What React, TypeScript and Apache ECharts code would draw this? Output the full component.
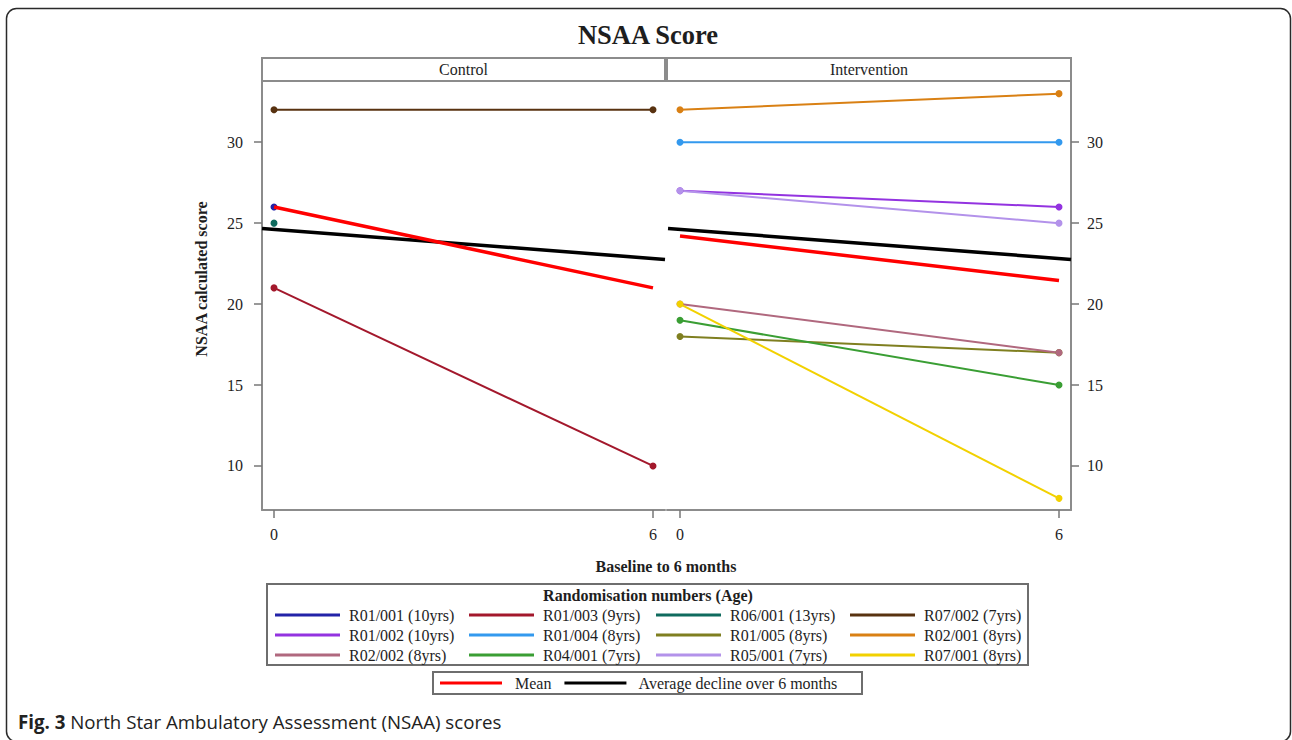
import React, { useEffect, useRef } from 'react';
import * as echarts from 'echarts';

// ---- data ----
const months = [0, 6];
const xTicks = [0, 6];
const yTicks = [10, 15, 20, 25, 30];
const panels = ['Control', 'Intervention'];

// Control group (baseline, 6 months)
const r01_001 = [26, null];
const r01_003 = [21, 10];
const r06_001 = [25, null];
const r07_002 = [32, 32];
const controlMean = [26, 21];

// Intervention group (baseline, 6 months)
const r01_002 = [27, 26];
const r01_004 = [30, 30];
const r01_005 = [18, 17];
const r02_001 = [32, 33];
const r02_002 = [20, 17];
const r04_001 = [19, 15];
const r05_001 = [27, 25];
const r07_001 = [20, 8];
const interventionMean = [24.2, 21.45];

// Average decline line, read at the panel edges
const declineX = [-0.19, 6.19];
const declineY = [24.67, 22.76];

const names = [
  'R01/001 (10yrs)', 'R01/003 (9yrs)', 'R06/001 (13yrs)', 'R07/002 (7yrs)',
  'R01/002 (10yrs)', 'R01/004 (8yrs)', 'R01/005 (8yrs)', 'R02/001 (8yrs)',
  'R02/002 (8yrs)', 'R04/001 (7yrs)', 'R05/001 (7yrs)', 'R07/001 (8yrs)',
];
const values = [
  r01_001, r01_003, r06_001, r07_002,
  r01_002, r01_004, r01_005, r02_001,
  r02_002, r04_001, r05_001, r07_001,
];
const panelOf = [0, 0, 0, 0, 1, 1, 1, 1, 1, 1, 1, 1];
const colors = [
  '#2323a8', '#a3182c', '#0f6b5e', '#583210',
  '#9333e0', '#3399ee', '#7f7f20', '#d98014',
  '#b0687e', '#3a9e34', '#b392ea', '#f2d100',
];

const SERIF = 'Liberation Serif';
const AXIS_GRAY = '#8c8c8c';
const TEXT = '#1e1e1e';

export default function App() {
  const ref = useRef<HTMLDivElement>(null);

  useEffect(() => {
    if (!ref.current) return;
    const chart = echarts.init(ref.current, undefined, { renderer: 'svg' });

    const grids = [
      { left: 262, top: 81, width: 403, height: 429 },
      { left: 667, top: 81, width: 404, height: 429 },
    ];
    const xMins = [-0.19, -0.206];

    const xAxis = grids.map((_, i) => ({
      gridIndex: i,
      type: 'value',
      min: xMins[i],
      max: 6.19,
      axisLine: { show: true, onZero: false, lineStyle: { color: AXIS_GRAY, width: 2 } },
      axisTick: { show: true, length: 8, customValues: xTicks, lineStyle: { color: '#777', width: 1.5 } },
      axisLabel: { customValues: xTicks, margin: 16, fontFamily: SERIF, fontSize: 16, color: TEXT },
      splitLine: { show: false },
    }));

    const yAxis = grids.map((_, i) => ({
      gridIndex: i,
      type: 'value',
      min: 7.28,
      max: 33.78,
      position: i === 0 ? 'left' : 'right',
      axisLine: { show: true, onZero: false, lineStyle: { color: AXIS_GRAY, width: 2 } },
      axisTick: { show: true, length: 8, customValues: yTicks, lineStyle: { color: '#777', width: 1.5 } },
      axisLabel: { customValues: yTicks, margin: i === 0 ? 19 : 16, fontFamily: SERIF, fontSize: 16, color: TEXT },
      splitLine: { show: false },
    }));

    const series: any[] = [];
    names.forEach((n, k) => {
      series.push({
        type: 'line',
        name: n,
        xAxisIndex: panelOf[k],
        yAxisIndex: panelOf[k],
        data: months.map((m, i) => [m, values[k][i]]).filter((d) => d[1] != null),
        symbol: 'circle',
        symbolSize: 7,
        color: colors[k],
        lineStyle: { color: colors[k], width: 2 },
        itemStyle: { color: colors[k] },
        z: 2,
      });
    });
    [controlMean, interventionMean].forEach((mv, p) => {
      series.push({
        type: 'line',
        name: 'Mean',
        xAxisIndex: p,
        yAxisIndex: p,
        data: months.map((m, i) => [m, mv[i]]),
        symbol: 'none',
        color: '#ff0000',
        lineStyle: { color: '#ff0000', width: 3.5 },
        z: 4,
      });
      series.push({
        type: 'line',
        name: 'Average decline over 6 months',
        xAxisIndex: p,
        yAxisIndex: p,
        data: declineX.map((x, i) => [x, declineY[i]]),
        symbol: 'none',
        color: '#000000',
        lineStyle: { color: '#000000', width: 3.5 },
        z: 3,
      });
    });

    const colLefts = [275, 469, 656, 850];
    const legendText = {
      fontFamily: SERIF,
      fontSize: 16,
      color: TEXT,
      lineHeight: 20,
    };
    const legends: any[] = colLefts.map((l, c) => ({
      orient: 'vertical',
      left: l,
      top: 605,
      padding: 0,
      itemWidth: 65,
      itemHeight: 3,
      itemGap: 0,
      icon: 'rect',
      selectedMode: false,
      data: [names[c], names[c + 4], names[c + 8]],
      formatter: (name: string) => ' ' + name,
      textStyle: legendText,
    }));
    legends.push({
      orient: 'horizontal',
      left: 440,
      top: 673,
      padding: 0,
      itemWidth: 62,
      itemHeight: 3,
      itemGap: 13,
      icon: 'rect',
      selectedMode: false,
      data: ['Mean', 'Average decline over 6 months'],
      formatter: (name: string) => '  ' + name,
      textStyle: legendText,
    });

    const graphic: any[] = [
      {
        type: 'rect',
        shape: { x: 6.5, y: 8.5, width: 1284, height: 733, r: 10 },
        style: { fill: 'none', stroke: '#2a2a2a', lineWidth: 1.5 },
        silent: true,
      },
      {
        type: 'text',
        x: 648,
        y: 35,
        style: {
          text: 'NSAA Score',
          font: `bold 26.5px ${SERIF}`,
          fill: TEXT,
          textAlign: 'center',
          textVerticalAlign: 'middle',
        },
      },
      {
        type: 'text',
        x: 666,
        y: 566,
        style: {
          text: 'Baseline to 6 months',
          font: `bold 16px ${SERIF}`,
          fill: TEXT,
          textAlign: 'center',
          textVerticalAlign: 'middle',
        },
      },
      {
        type: 'text',
        x: 201,
        y: 279,
        rotation: Math.PI / 2,
        style: {
          text: 'NSAA calculated score',
          font: `bold 16px ${SERIF}`,
          fill: TEXT,
          textAlign: 'center',
          textVerticalAlign: 'middle',
        },
      },
      {
        type: 'rect',
        shape: { x: 267, y: 584, width: 761, height: 81 },
        style: { fill: 'none', stroke: '#6e6e6e', lineWidth: 2 },
        silent: true,
      },
      {
        type: 'text',
        x: 648,
        y: 595,
        style: {
          text: 'Randomisation numbers (Age)',
          font: `bold 16px ${SERIF}`,
          fill: TEXT,
          textAlign: 'center',
          textVerticalAlign: 'middle',
        },
      },
      {
        type: 'rect',
        shape: { x: 433, y: 672, width: 429, height: 22 },
        style: { fill: 'none', stroke: '#6e6e6e', lineWidth: 2 },
        silent: true,
      },
      {
        type: 'text',
        x: 18,
        y: 721,
        style: {
          text: '{b|Fig. 3} North Star Ambulatory Assessment (NSAA) scores',
          font: '18.7px "Open Sans", sans-serif',
          fill: '#222',
          textVerticalAlign: 'middle',
          rich: {
            b: { font: 'bold 18.7px "Open Sans", sans-serif', fill: '#222' },
          },
        },
      },
    ];
    grids.forEach((g, i) => {
      graphic.push({
        type: 'rect',
        shape: { x: g.left, y: 58, width: g.width, height: 23 },
        style: { fill: '#fff', stroke: AXIS_GRAY, lineWidth: 2 },
        silent: true,
      });
      graphic.push({
        type: 'text',
        x: g.left + g.width / 2,
        y: 69.5,
        style: {
          text: panels[i],
          font: `16px ${SERIF}`,
          fill: TEXT,
          textAlign: 'center',
          textVerticalAlign: 'middle',
        },
      });
    });

    chart.setOption({
      animation: false,
      backgroundColor: '#ffffff',
      grid: grids,
      xAxis,
      yAxis,
      series,
      legend: legends,
      graphic,
    });

    return () => chart.dispose();
  }, []);

  return (
    <div
      ref={ref}
      style={{ position: 'absolute', left: 0, top: 0, width: 1292, height: 740 }}
    />
  );
}
